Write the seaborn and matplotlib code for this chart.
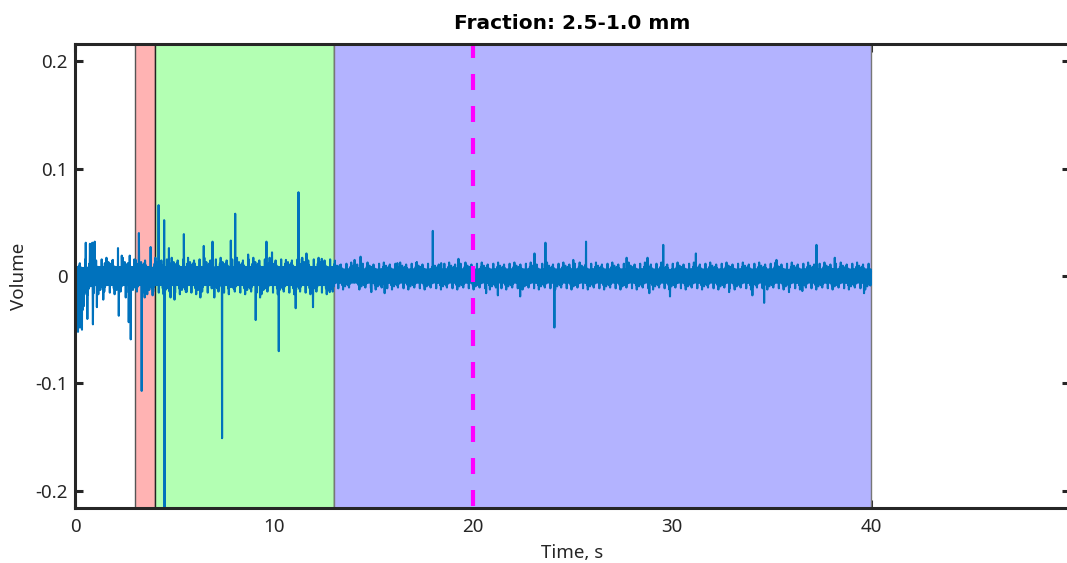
import numpy as np
import pandas as pd
import matplotlib
matplotlib.use("Agg")
import matplotlib.pyplot as plt
import seaborn as sns

# ---- data -------------------------------------------------------------
# Phase windows (start, end) in seconds and their fill colours
phase_starts = [3.0, 4.0, 13.0]
phase_ends = [4.0, 13.0, 40.0]
phase_colors = ["#FFB3B3", "#B3FFB3", "#B3B3FF"]
phase_edges = ["#555555", "#222222", "#777777"]

marker_time = 20.0

# Background noise band of the volume signal (upper / lower envelope)
env_t = [0.0, 0.4, 0.5, 1.0, 3.0, 13.0, 13.1, 40.0]
env_hi = [0.007, 0.009, 0.010, 0.010, 0.010, 0.010, 0.0074, 0.0074]
env_lo = [-0.032, -0.030, -0.013, -0.010, -0.010, -0.010, -0.0074, -0.0074]

# Relative amplitude pattern of the oscillation inside the band
texture = [0.9, 0.7, 1.0, 0.8, 1.3, 0.65, 0.95, 0.75, 1.0, 0.85, 0.7, 1.55,
           0.9, 0.6, 0.95, 0.8, 1.1, 0.7, 0.9, 0.75, 1.2, 0.85, 0.95, 0.6,
           1.45, 0.8, 0.9, 0.7, 1.0, 0.85, 0.65, 1.15, 0.8, 0.95, 0.7, 1.7,
           0.75, 0.9, 0.85, 1.05, 0.7]

# Individual excursions of the signal: time (s) and volume
spike_t = [0.08, 0.15, 0.25, 0.35, 0.54, 0.62, 0.75, 0.87, 0.90, 0.99, 1.10,
           1.42, 1.50, 1.90, 2.16, 2.20, 2.35, 2.55, 2.70, 2.75, 2.80,
           3.05, 3.21, 3.35, 3.50, 3.65, 3.80, 3.90,
           4.20, 4.48, 4.50, 4.72, 4.80, 5.00, 5.47, 5.60, 6.00, 6.30, 6.47,
           6.91, 7.00, 7.39, 7.83, 8.05, 8.30, 8.70, 9.08, 9.30, 9.62, 9.90,
           10.24, 10.60, 11.09, 11.23, 11.40, 11.63, 11.96, 12.40, 12.80,
           13.30, 14.05, 14.35, 14.89, 15.56, 16.20, 17.18, 17.98, 18.40,
           19.27, 20.66, 21.25, 22.37, 23.09, 23.64, 24.09, 25.04, 25.68,
           27.72, 28.77, 28.86, 29.56, 29.90, 31.20, 32.87, 34.04, 34.63,
           35.25, 35.88, 36.55, 37.26, 38.18, 39.65]
spike_v = [-0.050, -0.052, -0.048, -0.050, 0.031, -0.040, 0.030, 0.031, -0.045,
           0.032, -0.029, -0.022, 0.012, 0.015, 0.026, -0.037, 0.019, -0.020,
           -0.043, 0.019, -0.059,
           0.015, 0.040, -0.107, -0.020, -0.012, 0.027, -0.018,
           0.066, 0.052, -0.250, 0.026, -0.020, -0.022, 0.039, -0.015, 0.012,
           -0.020, 0.028, 0.032, -0.020, -0.151, 0.033, 0.058, -0.015, 0.020,
           -0.041, -0.020, 0.032, 0.022, -0.070, 0.015, -0.030, 0.078, 0.016,
           0.021, -0.029, 0.016, -0.015,
           0.010, 0.015, 0.018, -0.015, -0.016, 0.012, 0.013, 0.042, 0.012,
           0.016, -0.016, -0.018, -0.019, 0.021, 0.031, -0.048, 0.015, 0.032,
           0.017, 0.017, -0.016, 0.029, -0.019, 0.021, -0.015, -0.018, -0.025,
           0.015, -0.015, -0.014, 0.029, 0.017, -0.016]

# ---- build the sampled signal ---------------------------------------
dt = 0.01
t = np.round(np.arange(0.0, 40.0 + dt / 2, dt), 4)
hi = np.interp(t, env_t, env_hi)
lo = np.interp(t, env_t, env_lo)
tex = np.resize(np.array(texture), t.size)
vol = np.where(np.arange(t.size) % 2 == 0, hi * tex, lo * tex)
for st, sv in zip(spike_t, spike_v):
    vol[int(round(st / dt))] = sv
df = pd.DataFrame({"Time, s": t, "Volume": vol})

# ---- figure ------------------------------------------------------------
sns.set_theme(style="white")
plt.rcParams["font.family"] = ["Noto Sans", "DejaVu Sans"]
plt.rcParams["axes.unicode_minus"] = False

fig = plt.figure(figsize=(10.67, 5.63), dpi=100)
ax = fig.add_axes([0.0703, 0.0977, 0.9325, 0.8241])

ymin, ymax = -0.216, 0.216

# patches sit above the tick marks but below the signal and the frame
for x0, x1, fc, ec in zip(phase_starts, phase_ends, phase_colors, phase_edges):
    ax.axvspan(x0, x1, facecolor=fc, edgecolor=ec, linewidth=1.0, zorder=2.55)

sns.lineplot(data=df, x="Time, s", y="Volume", color="#0072BD",
             linewidth=1.5, estimator=None, sort=False, ax=ax, zorder=2.6)

# dashed marker, pattern phased from the bottom edge
ax.plot([marker_time, marker_time], [ymin, ymax], color="#FF00FF",
        linewidth=3.0, linestyle=(7.2, (3.84, 3.84)), zorder=2.65)

ax.set_xlim(0, 50)
ax.set_ylim(ymin, ymax)
ax.set_xticks([0, 10, 20, 30, 40])
ax.set_xticklabels(["0", "10", "20", "30", "40"])
ax.set_yticks([-0.2, -0.1, 0, 0.1, 0.2])
ax.set_yticklabels(["-0.2", "-0.1", "0", "0.1", "0.2"])

ink = "#262626"
for side in ["left", "right", "top", "bottom"]:
    ax.spines[side].set_color(ink)
    ax.spines[side].set_linewidth(2.2)
    ax.spines[side].set_visible(True)
    ax.spines[side].set_zorder(2.7)
ax.tick_params(axis="both", which="both", direction="in", length=6,
               width=2.2, color=ink, labelcolor=ink, labelsize=13.5,
               top=True, right=True, bottom=True, left=True)
ax.tick_params(axis="x", pad=7)
ax.tick_params(axis="y", pad=5)

ax.set_xlabel("Time, s", fontsize=13.5, color=ink, labelpad=6)
ax.set_ylabel("Volume", fontsize=13.5, color=ink, labelpad=5)
ax.set_title("Fraction: 2.5-1.0 mm", fontsize=14.5, fontweight="bold",
             family="DejaVu Sans", color="black", pad=10.5)

fig.savefig("out.png", dpi=100)
